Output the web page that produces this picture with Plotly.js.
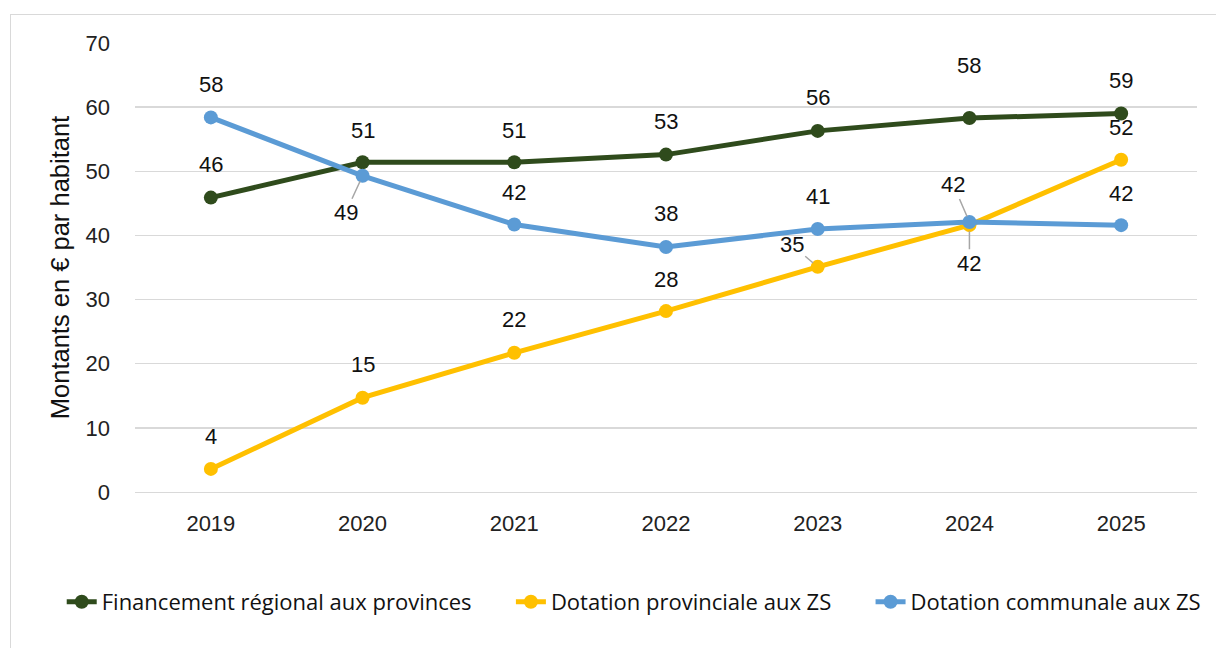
<!DOCTYPE html>
<html>
<head>
<meta charset="utf-8">
<script src="https://cdn.plot.ly/plotly-3.0.1.min.js"></script>
<style>
html,body{margin:0;padding:0;background:#fff;width:1216px;height:648px;overflow:hidden;}
#frame{position:absolute;left:10px;top:14px;width:1220px;height:640px;border:1.5px solid #d9d9d9;box-sizing:border-box;}
#chart{position:absolute;left:0;top:0;width:1216px;height:648px;}
#dbg{position:absolute;left:150px;top:630px;font:12px monospace;color:red;}
</style>
</head>
<body>
<div id="frame"></div>
<div id="chart"></div>
<div id="dbg"></div>
<script>
const years = ['2019','2020','2021','2022','2023','2024','2025'];
const financementRegional = [45.9, 51.4, 51.4, 52.6, 56.3, 58.3, 59.0];
const dotationProvinciale = [3.6, 14.7, 21.7, 28.2, 35.1, 41.6, 51.8];
const dotationCommunale = [58.4, 49.3, 41.7, 38.2, 41.0, 42.1, 41.6];
const seriesNames = ['Financement régional aux provinces', 'Dotation provinciale aux ZS', 'Dotation communale aux ZS'];
const seriesColors = ['#2f4b1c', '#ffc000', '#5b9bd5'];

const greenOff = [[0,-33],[0,-32],[0,-32],[0,-33],[0,-33],[0,-53],[0,-33]];
const yellowOff = [[0,-32],[0,-33],[0,-33],[0,-32],[-26,-22,true],[0,38,true],[0,-32]];
const blueOff = [[0,-33],[-17,37,true],[0,-32],[0,-33],[0,-33],[-16,-37,true],[0,-32]];

const data = [financementRegional, dotationProvinciale, dotationCommunale];
const pad = '\u00a0\u00a0\u00a0\u00a0\u00a0\u00a0';
const traces = data.map((vals, i) => ({
  x: years, y: vals, name: seriesNames[i] + (i < 2 ? pad : ''), type: 'scatter', mode: 'lines+markers',
  line: {color: seriesColors[i], width: 5},
  marker: {color: seriesColors[i], size: 14},
  hoverinfo: 'skip'
}));

const annotations = [];
const offs = [greenOff, yellowOff, blueOff];
data.forEach((vals, i) => {
  vals.forEach((v, j) => {
    const o = offs[i][j];
    const a = {
      x: j, y: v, xref: 'x', yref: 'y', text: String(Math.round(v)),
      font: {family: 'Liberation Sans', size: 22, color: '#111'}
    };
    if (o[2]) {
      a.showarrow = true; a.ax = o[0]; a.ay = o[1]; a.arrowhead = 0;
      a.arrowcolor = '#a6a6a6'; a.arrowwidth = 1.5; a.standoff = 6;
    } else {
      a.showarrow = false; a.xshift = o[0]; a.yshift = -o[1];
    }
    annotations.push(a);
  });
});

const layout = {
  width: 1216, height: 648,
  paper_bgcolor: 'rgba(0,0,0,0)', plot_bgcolor: 'rgba(0,0,0,0)',
  margin: {l: 135, r: 19, t: 43, b: 156},
  showlegend: true,
  legend: {orientation: 'h', x: -0.069, xanchor: 'left', y: -0.245, yanchor: 'middle',
    font: {family: 'Open Sans', size: 22, color: '#111'}},
  xaxis: {type: 'category', range: [-0.5, 6.5], showgrid: false, zeroline: false, showline: true,
    linecolor: '#d9d9d9', linewidth: 1, ticks: '', ticklabelstandoff: 12,
    tickfont: {family: 'Liberation Sans', size: 22, color: '#222'}},
  yaxis: {range: [0, 70], dtick: 10, showgrid: true, gridcolor: '#d9d9d9', gridwidth: 1.5, zeroline: false,
    ticks: '', ticklabelstandoff: 24,
    tickfont: {family: 'Liberation Sans', size: 22, color: '#222'},
    title: {text: 'Montants en € par habitant', standoff: 8,
      font: {family: 'Liberation Sans', size: 25.5, color: '#111'}}},
  annotations: annotations
};
try {
  Plotly.newPlot('chart', traces, layout, {displayModeBar: false, staticPlot: true}).then(() => {
    const n = document.querySelectorAll('.annotation').length;
    if (n !== 21) document.getElementById('dbg').textContent = 'v' + Plotly.version + ' ann=' + n;
  }).catch(e => { document.getElementById('dbg').textContent = 'ERR ' + e; });
} catch (e) { document.getElementById('dbg').textContent = 'ERR ' + e; }
</script>
</body>
</html>
